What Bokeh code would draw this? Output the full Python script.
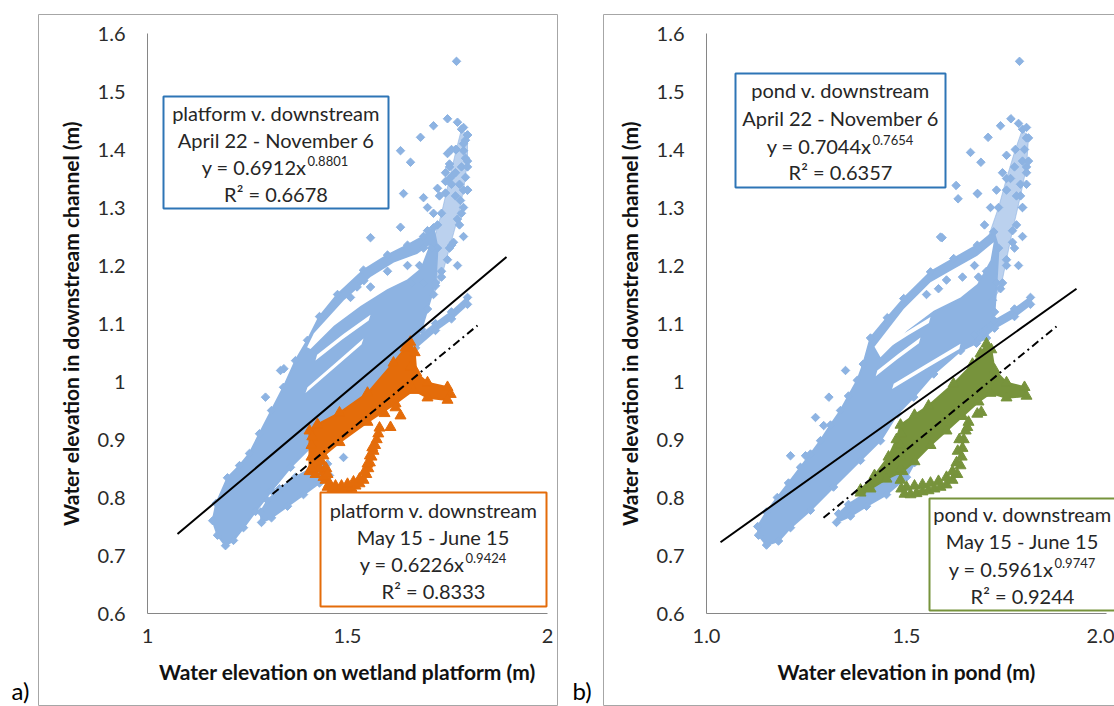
from bokeh.plotting import figure
from bokeh.models import Range1d, LinearAxis, FixedTicker
from bokeh.layouts import row
from bokeh.core.properties import value
from bokeh.embed import file_html
from bokeh.resources import INLINE

# ---------------- axes / labels ----------------
y_ticks = [0.6, 0.7, 0.8, 0.9, 1.0, 1.1, 1.2, 1.3, 1.4, 1.5, 1.6]
y_tick_labels = ["0.6", "0.7", "0.8", "0.9", "1", "1.1", "1.2", "1.3", "1.4", "1.5", "1.6"]
x_ticks = [1.0, 1.5, 2.0]
a_x_tick_labels = ["1", "1.5", "2"]
b_x_tick_labels = ["1.0", "1.5", "2.0"]
y_title = "Water elevation in downstream channel (m)"
a_x_title = "Water elevation on wetland platform (m)"
b_x_title = "Water elevation in pond (m)"

# ---------------- panel a: platform v. downstream ----------------
# outline of the densely packed part of the April 22 - November 6 points
a_cloud_x = [1.195, 1.175, 1.163, 1.172, 1.20, 1.23, 1.255, 1.28, 1.31, 1.34, 1.37, 1.40, 1.43, 1.475,
             1.54, 1.60, 1.65, 1.69, 1.715, 1.725, 1.72, 1.70, 1.685, 1.665, 1.62, 1.55, 1.48, 1.42,
             1.3575, 1.31, 1.27, 1.24, 1.215]
a_cloud_y = [0.717, 0.735, 0.760, 0.790, 0.834, 0.855, 0.876, 0.910, 0.950, 0.990, 1.036, 1.071, 1.112, 1.150,
             1.192, 1.218, 1.235, 1.250, 1.265, 1.230, 1.170, 1.125, 1.090, 1.062, 1.035, 0.985, 0.935, 0.895,
             0.852, 0.812, 0.776, 0.748, 0.726]
a_tail_x = [1.285, 1.31, 1.35, 1.39, 1.43, 1.455, 1.45, 1.41, 1.37, 1.33, 1.30, 1.283]
a_tail_y = [0.757, 0.765, 0.785, 0.805, 0.825, 0.838, 0.858, 0.850, 0.835, 0.815, 0.795, 0.775]
a_thin_x = [1.665, 1.72, 1.76, 1.80, 1.80, 1.76, 1.72, 1.67]
a_thin_y = [1.070, 1.100, 1.120, 1.145, 1.133, 1.108, 1.088, 1.058]
# looser, speckled column of points rising to the curl
a_column_x = [1.69, 1.71, 1.735, 1.755, 1.772, 1.785, 1.80, 1.80, 1.79, 1.775, 1.755, 1.735, 1.715]
a_column_y = [1.170, 1.230, 1.290, 1.350, 1.400, 1.435, 1.425, 1.380, 1.330, 1.280, 1.230, 1.180, 1.150]
# empty lens and streaks inside the cloud
a_gap1_x = [1.399, 1.416, 1.491, 1.5575, 1.616, 1.674, 1.705, 1.6825, 1.649, 1.599, 1.5325, 1.466, 1.4075]
a_gap1_y = [1.059, 1.083, 1.140, 1.180, 1.205, 1.220, 1.235, 1.195, 1.176, 1.159, 1.130, 1.096, 1.056]
a_gap2_x = [1.424, 1.49, 1.5575, 1.553, 1.486, 1.42]
a_gap2_y = [1.046, 1.082, 1.115, 1.105, 1.072, 1.036]
a_gap3_x = [1.40, 1.47, 1.54, 1.535, 1.465, 1.395]
a_gap3_y = [0.990, 1.032, 1.074, 1.064, 1.022, 0.980]
# scattered diamonds
a_pts_x = [1.7725, 1.715, 1.75, 1.775, 1.79, 1.6825, 1.795, 1.6325, 1.6575, 1.75, 1.79, 1.7625, 1.795,
           1.64, 1.69, 1.725, 1.7825, 1.5575, 1.785, 1.795, 1.78, 1.80, 1.79, 1.77, 1.76, 1.745, 1.77,
           1.755, 1.77, 1.745, 1.341, 1.295, 1.2925, 1.49, 1.80, 1.785, 1.79, 1.76, 1.775, 1.725, 1.70,
           1.68, 1.69, 1.70, 1.715, 1.73, 1.745, 1.755, 1.76, 1.80, 1.80, 1.79, 1.78, 1.765, 1.75, 1.735,
           1.72, 1.541, 1.524, 1.5575, 1.5075, 1.6325, 1.3325, 1.60, 1.65, 1.66]
a_pts_y = [1.552, 1.441, 1.453, 1.447, 1.438, 1.421, 1.416, 1.398, 1.378, 1.393, 1.398, 1.355, 1.352,
           1.324, 1.317, 1.333, 1.312, 1.248, 1.370, 1.385, 1.340, 1.425, 1.410, 1.360, 1.340, 1.325, 1.320,
           1.370, 1.400, 1.360, 1.022, 0.973, 0.817, 0.869, 1.330, 1.290, 1.250, 1.235, 1.200, 1.270, 1.300,
           1.200, 1.230, 1.260, 1.290, 1.320, 1.345, 1.375, 1.400, 1.370, 1.330, 1.300, 1.270, 1.240, 1.210,
           1.190, 1.165, 1.174, 1.163, 1.163, 1.145, 1.266, 1.019, 1.190, 1.200, 1.170]
# May 15 - June 15 (triangles)
a_sub_band_x = [1.405, 1.405, 1.425, 1.48, 1.55, 1.615, 1.645, 1.657, 1.668, 1.672, 1.70, 1.75, 1.758,
                1.75, 1.70, 1.665, 1.62, 1.55, 1.48, 1.44, 1.43, 1.42]
a_sub_band_y = [0.845, 0.915, 0.926, 0.946, 0.980, 1.032, 1.058, 1.068, 1.050, 1.015, 0.998, 0.990, 0.978,
                0.968, 0.972, 0.985, 0.962, 0.930, 0.895, 0.872, 0.850, 0.840]
a_sub_pts_x = [1.435, 1.44, 1.445, 1.45, 1.46, 1.47, 1.48, 1.49, 1.50, 1.51, 1.52, 1.53, 1.54, 1.547,
               1.552, 1.556, 1.56, 1.565, 1.569, 1.573, 1.577, 1.58, 1.447, 1.41, 1.41, 1.41, 1.412,
               1.6325, 1.6075, 1.6575, 1.5925, 1.62, 1.455, 1.47, 1.485, 1.50, 1.515, 1.53, 1.543,
               1.55, 1.556, 1.562, 1.44, 1.45]
a_sub_pts_y = [0.862, 0.845, 0.830, 0.818, 0.812, 0.810, 0.809, 0.810, 0.813, 0.816, 0.820, 0.824, 0.830, 0.840,
               0.850, 0.860, 0.870, 0.880, 0.890, 0.900, 0.910, 0.920, 0.850, 0.850, 0.870, 0.890, 0.905,
               0.941, 0.921, 1.025, 0.945, 0.955, 0.824, 0.820, 0.820, 0.823, 0.827, 0.832, 0.845,
               0.858, 0.872, 0.886, 0.835, 0.840]
a_fit_all_x = [1.075, 1.8975]
a_fit_all_y = [0.737, 1.2145]
a_fit_sub_x = [1.3125, 1.825]
a_fit_sub_y = [0.806, 1.0966]
a_box1 = ["platform v. downstream", "April 22 - November 6", "y = 0.6912x", "0.8801", "R\u00b2 = 0.6678"]
a_box2 = ["platform v. downstream", "May 15 - June 15", "y = 0.6226x", "0.9424", "R\u00b2 = 0.8333"]

# ---------------- panel b: pond v. downstream ----------------
b_cloud_x = [1.15, 1.13, 1.128, 1.15, 1.177, 1.205, 1.235, 1.26, 1.285, 1.31, 1.335, 1.355, 1.377, 1.392,
             1.41, 1.452, 1.493, 1.56, 1.618, 1.677, 1.718, 1.73, 1.725, 1.72, 1.70, 1.635, 1.568, 1.518,
             1.477, 1.435, 1.385, 1.3175, 1.26, 1.21, 1.18]
b_cloud_y = [0.718, 0.735, 0.750, 0.775, 0.800, 0.825, 0.852, 0.875, 0.898, 0.925, 0.950, 0.975, 1.002, 1.030,
             1.075, 1.110, 1.143, 1.189, 1.212, 1.235, 1.258, 1.230, 1.170, 1.120, 1.075, 1.053, 1.013, 0.973,
             0.944, 0.898, 0.864, 0.818, 0.778, 0.748, 0.725]
b_tail_x = [1.325, 1.36, 1.40, 1.45, 1.50, 1.52, 1.50, 1.45, 1.40, 1.355, 1.33]
b_tail_y = [0.757, 0.768, 0.785, 0.805, 0.835, 0.860, 0.865, 0.830, 0.808, 0.788, 0.772]
b_thin_x = [1.67, 1.72, 1.77, 1.81, 1.81, 1.77, 1.72, 1.675]
b_thin_y = [1.080, 1.105, 1.125, 1.145, 1.133, 1.112, 1.092, 1.066]
b_column_x = [1.68, 1.70, 1.73, 1.75, 1.772, 1.79, 1.805, 1.80, 1.785, 1.765, 1.75, 1.735, 1.715]
b_column_y = [1.180, 1.240, 1.300, 1.350, 1.400, 1.435, 1.420, 1.370, 1.320, 1.260, 1.210, 1.160, 1.140]
b_gap1_x = [1.42, 1.493, 1.56, 1.618, 1.677, 1.718, 1.71, 1.677, 1.635, 1.568, 1.502, 1.435]
b_gap1_y = [1.060, 1.125, 1.171, 1.194, 1.217, 1.240, 1.209, 1.168, 1.145, 1.122, 1.088, 1.042]
b_gap2_x = [1.452, 1.51, 1.56, 1.556, 1.505, 1.448]
b_gap2_y = [1.065, 1.090, 1.111, 1.101, 1.080, 1.055]
b_gap3_x = [1.427, 1.48, 1.535, 1.531, 1.476, 1.423]
b_gap3_y = [1.019, 1.048, 1.076, 1.066, 1.038, 1.009]
b_gap4_x = [1.468, 1.55, 1.635, 1.632, 1.546, 1.464]
b_gap4_y = [0.996, 1.030, 1.065, 1.056, 1.021, 0.987]
b_pts_x = [1.7825, 1.761, 1.78, 1.735, 1.80, 1.704, 1.66, 1.686, 1.624, 1.678, 1.629, 1.589, 1.80, 1.795,
           1.79, 1.80, 1.785, 1.775, 1.79, 1.77, 1.76, 1.75, 1.677, 1.585, 1.3475, 1.306, 1.2725, 1.293,
           1.21, 1.2475, 1.79, 1.77, 1.78, 1.67, 1.68, 1.695, 1.71, 1.725, 1.74, 1.75, 1.805, 1.80, 1.79,
           1.775, 1.765, 1.75, 1.74, 1.55, 1.58, 1.60, 1.64, 1.70]
b_pts_y = [1.552, 1.453, 1.445, 1.441, 1.438, 1.421, 1.395, 1.378, 1.338, 1.324, 1.315, 1.248, 1.420, 1.400,
           1.380, 1.360, 1.340, 1.320, 1.300, 1.370, 1.350, 1.330, 1.324, 1.249, 1.019, 0.973, 0.938, 0.924,
           0.872, 0.872, 1.250, 1.230, 1.200, 1.200, 1.230, 1.270, 1.300, 1.330, 1.360, 1.390, 1.380, 1.340,
           1.300, 1.270, 1.240, 1.200, 1.170, 1.150, 1.160, 1.175, 1.180, 1.190]
b_sub_band_x = [1.385, 1.42, 1.455, 1.475, 1.485, 1.52, 1.555, 1.6175, 1.665, 1.685, 1.70, 1.712, 1.72,
                1.75, 1.795, 1.80, 1.75, 1.71, 1.68, 1.64, 1.60, 1.56, 1.52, 1.49, 1.45, 1.41, 1.385]
b_sub_band_y = [0.813, 0.838, 0.870, 0.900, 0.925, 0.942, 0.958, 0.996, 1.030, 1.048, 1.065, 1.055, 1.020,
                0.998, 0.990, 0.975, 0.972, 0.980, 0.965, 0.940, 0.915, 0.890, 0.862, 0.845, 0.832, 0.815, 0.808]
b_sub_pts_x = [1.485, 1.487, 1.495, 1.51, 1.525, 1.54, 1.555, 1.57, 1.585, 1.60, 1.615, 1.627, 1.635, 1.638,
               1.64, 1.643, 1.648, 1.655, 1.485, 1.485, 1.485, 1.487, 1.677, 1.652, 1.687, 1.50, 1.52,
               1.54, 1.56, 1.58, 1.60, 1.615, 1.625, 1.628, 1.632]
b_sub_pts_y = [0.830, 0.815, 0.806, 0.805, 0.807, 0.810, 0.812, 0.815, 0.818, 0.822, 0.830, 0.840, 0.855, 0.870,
               0.885, 0.900, 0.915, 0.930, 0.850, 0.870, 0.890, 0.910, 0.944, 0.921, 0.947, 0.818, 0.820,
               0.822, 0.825, 0.828, 0.835, 0.845, 0.860, 0.880, 0.900]
b_fit_all_x = [1.035, 1.925]
b_fit_all_y = [0.7228, 1.160]
b_fit_sub_x = [1.2925, 1.875]
b_fit_sub_y = [0.765, 1.095]
b_box1 = ["pond v. downstream", "April 22 - November 6", "y = 0.7044x", "0.7654", "R\u00b2 = 0.6357"]
b_box2 = ["pond v. downstream", "May 15 - June 15", "y = 0.5961x", "0.9747", "R\u00b2 = 0.9244"]

# ---------------- styling ----------------
BLUE = "#8DB3E2"
ORANGE = "#E46C0A"
GREEN = "#77933C"
BOXBLUE = "#2E75B6"
TXT = "#262626"
FONT = "Lato"
H = 706


def make_panel(left_px, width, x1_px, x_labels, x_title, border, tag, tag_px,
               cloud_parts, column, gaps, pts, sub_band, sub_pts, sub_color, fit_all, fit_sub,
               box1, box1_geo, box2, box2_geo, box2_color):
    fx = lambda px: 1.0 + (px - x1_px) / 400.0
    fy = lambda py: 1.6 - (py - 33.0) / 580.0
    p = figure(width=width, height=H,
               x_range=Range1d(fx(left_px), fx(left_px + width)),
               y_range=Range1d(fy(H), fy(0)),
               x_axis_type=None, y_axis_type=None, toolbar_location=None,
               output_backend="svg", min_border=0, outline_line_color=None,
               background_fill_color="white", border_fill_color="white")
    p.grid.visible = False

    # panel frame
    p.quad(left=[fx(border[0])], right=[fx(border[1])], top=[fy(14)], bottom=[fy(705)],
           fill_color=None, line_color="#A6A6A6", line_width=1)
    p.text(x=[fx(tag_px)], y=[fy(690)], text=[tag], text_align="left", text_baseline="middle",
           text_font=value(FONT), text_font_size="24px", text_color="black")

    # full-season cloud
    p.patch(column[0], column[1], fill_color=BLUE, fill_alpha=0.6, line_color=BLUE, line_alpha=0.6,
            line_width=1)
    p.patches(xs=[c[0] for c in cloud_parts], ys=[c[1] for c in cloud_parts],
              fill_color=BLUE, line_color=BLUE, line_width=2)
    allx = [v for c in cloud_parts for v in c[0]]
    ally = [v for c in cloud_parts for v in c[1]]
    p.scatter(allx, ally, marker="square", angle=0.785398, size=6, fill_color=BLUE, line_color=BLUE)
    p.patches(xs=[g[0] for g in gaps], ys=[g[1] for g in gaps], fill_color="white", line_color=None)
    p.scatter(column[0], column[1], marker="square", angle=0.785398, size=6, fill_color=BLUE, line_color=BLUE)
    p.scatter(pts[0], pts[1], marker="square", angle=0.785398, size=6, fill_color=BLUE, line_color=BLUE)

    # sub-period triangles
    p.patch(sub_band[0], sub_band[1], fill_color=sub_color, line_color=sub_color, line_width=2)
    p.scatter(sub_band[0], sub_band[1], marker="triangle", size=11, fill_color=sub_color, line_color=sub_color)
    p.scatter(sub_pts[0], sub_pts[1], marker="triangle", size=11, fill_color=sub_color, line_color=sub_color)

    # power-law trend lines
    p.line(fit_all[0], fit_all[1], line_color="black", line_width=2)
    p.line(fit_sub[0], fit_sub[1], line_color="black", line_width=2, line_dash="8 4 2 4")

    # equation boxes
    for lines, geo, col in ((box1, box1_geo, BOXBLUE), (box2, box2_geo, box2_color)):
        l, t, r, b, cx, ys, eq_r, exp_py = geo
        p.quad(left=[fx(l)], right=[fx(r)], top=[fy(t)], bottom=[fy(b)],
               fill_color="white", line_color=col, line_width=2)
        p.text(x=[fx(cx)] * 3, y=[fy(ys[0]), fy(ys[1]), fy(ys[3])], text=[lines[0], lines[1], lines[4]],
               text_align="center", text_baseline="middle", text_font=value(FONT),
               text_font_size="20px", text_color=TXT)
        p.text(x=[fx(eq_r)], y=[fy(ys[2])], text=[lines[2]], text_align="right", text_baseline="middle",
               text_font=value(FONT), text_font_size="20px", text_color=TXT)
        p.text(x=[fx(eq_r + 1)], y=[fy(exp_py)], text=[lines[3]], text_align="left", text_baseline="middle",
               text_font=value(FONT), text_font_size="13px", text_color=TXT)

    xa = LinearAxis(fixed_location=0.6, bounds=(1.0, 2.0), ticker=FixedTicker(ticks=x_ticks),
                    major_label_overrides=dict(zip(x_ticks, x_labels)), axis_label=x_title)
    ya = LinearAxis(fixed_location=1.0, bounds=(0.6, 1.6), ticker=FixedTicker(ticks=y_ticks),
                    major_label_overrides=dict(zip(y_ticks, y_tick_labels)), axis_label=y_title)
    for ax, ls, als in ((xa, 15, 13), (ya, 22, 12)):
        ax.axis_line_color = "#868686"
        ax.axis_line_width = 1
        ax.major_tick_line_color = None
        ax.minor_tick_line_color = None
        ax.major_tick_out = 0
        ax.major_tick_in = 0
        ax.major_label_standoff = ls
        ax.axis_label_standoff = als
        ax.major_label_text_font = FONT
        ax.major_label_text_font_size = "20px"
        ax.major_label_text_color = "#2b2b2b"
        ax.axis_label_text_font = FONT
        ax.axis_label_text_font_size = "21px"
        ax.axis_label_text_font_style = "bold"
        ax.axis_label_text_color = "#111111"
    p.add_layout(xa, "below")
    p.add_layout(ya, "left")
    return p


pa = make_panel(0, 566, 147, a_x_tick_labels, a_x_title, (38, 557), "a)", 11,
                [(a_cloud_x, a_cloud_y), (a_tail_x, a_tail_y), (a_thin_x, a_thin_y)],
                (a_column_x, a_column_y),
                [(a_gap1_x, a_gap1_y), (a_gap2_x, a_gap2_y), (a_gap3_x, a_gap3_y)],
                (a_pts_x, a_pts_y), (a_sub_band_x, a_sub_band_y), (a_sub_pts_x, a_sub_pts_y), ORANGE,
                (a_fit_all_x, a_fit_all_y), (a_fit_sub_x, a_fit_sub_y),
                a_box1, (163, 96, 388, 208, 275.5, (112, 139, 166, 193), 306, 160),
                a_box2, (320, 492, 546, 606, 433, (509, 536, 563, 590), 464, 557), ORANGE)

pb = make_panel(566, 548, 706, b_x_tick_labels, b_x_title, (603, 1200), "b)", 572,
                [(b_cloud_x, b_cloud_y), (b_tail_x, b_tail_y), (b_thin_x, b_thin_y)],
                (b_column_x, b_column_y),
                [(b_gap1_x, b_gap1_y), (b_gap2_x, b_gap2_y), (b_gap3_x, b_gap3_y), (b_gap4_x, b_gap4_y)],
                (b_pts_x, b_pts_y), (b_sub_band_x, b_sub_band_y), (b_sub_pts_x, b_sub_pts_y), GREEN,
                (b_fit_all_x, b_fit_all_y), (b_fit_sub_x, b_fit_sub_y),
                b_box1, (735, 73, 945, 187, 840, (89, 117, 145, 171), 871, 139),
                b_box2, (929, 498, 1129, 610, 1022, (513, 540, 568, 595), 1053, 562), GREEN)

layout = row(pa, pb, spacing=0)
open("out.html", "w").write(file_html(layout, INLINE))
